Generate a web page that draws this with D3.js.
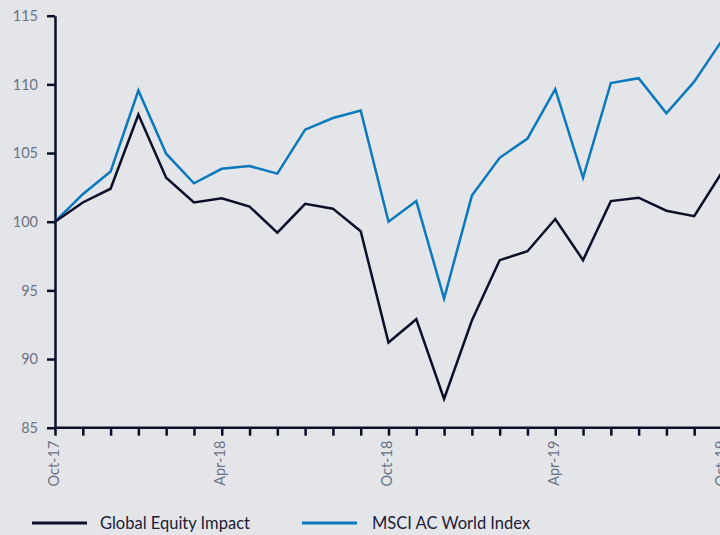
<!DOCTYPE html>
<html>
<head>
<meta charset="utf-8">
<script src="https://cdn.jsdelivr.net/npm/d3@7"></script>
<style>
  html, body { margin: 0; padding: 0; background: #e4e5e9; }
  svg { display: block; }
  text { font-family: Lato, "Open Sans", sans-serif; }
</style>
</head>
<body>
<svg id="chart" width="720" height="535"></svg>
<script>
// Monthly index levels, rebased to 100 at Oct-17
const months = [
  "Oct-17","Nov-17","Dec-17","Jan-18","Feb-18","Mar-18","Apr-18","May-18","Jun-18",
  "Jul-18","Aug-18","Sep-18","Oct-18","Nov-18","Dec-18","Jan-19","Feb-19","Mar-19",
  "Apr-19","May-19","Jun-19","Jul-19","Aug-19","Sep-19","Oct-19"
];
const globalEquityImpact = [
  100.0, 101.4, 102.4, 107.8, 103.2, 101.4, 101.7, 101.1, 99.2,
  101.3, 100.95, 99.3, 91.2, 92.9, 87.1, 92.8, 97.2, 97.85,
  100.2, 97.2, 101.5, 101.75, 100.8, 100.4, 103.6
];
const msciACWorld = [
  100.0, 102.0, 103.65, 109.55, 104.95, 102.8, 103.85, 104.05, 103.5,
  106.7, 107.55, 108.1, 100.0, 101.5, 94.4, 101.9, 104.65, 106.05,
  109.65, 103.2, 110.1, 110.45, 107.9, 110.2, 113.2
];
const yTicks = [85, 90, 95, 100, 105, 110, 115];
const xLabels = ["Oct-17", "Apr-18", "Oct-18", "Apr-19", "Oct-19"];

const series = [
  { name: "Global Equity Impact", values: globalEquityImpact, color: "#0b1029" },
  { name: "MSCI AC World Index", values: msciACWorld, color: "#0a78bd" }
];

const svg = d3.select("#chart");
const axisColor = "#0b1029";
const tickTextColor = "#6c7285";

const x = d3.scalePoint().domain(months).range([55, 722]);
const y = d3.scaleLinear().domain([85, 115]).range([427.7, 15.7]);

// Y axis
const yAxis = svg.append("g")
  .attr("transform", "translate(55,0)")
  .call(d3.axisLeft(y).tickValues(yTicks).tickSizeOuter(0).tickSizeInner(8).tickPadding(9));
yAxis.select(".domain").attr("stroke", axisColor).attr("stroke-width", 2.5);
yAxis.selectAll(".tick line").attr("stroke", axisColor).attr("stroke-width", 2.5);
yAxis.selectAll(".tick text")
  .attr("fill", tickTextColor)
  .style("font-size", "14.5px")
  .style("font-family", "Lato, sans-serif");

// X axis, monthly ticks with semi-annual labels
const xAxis = svg.append("g")
  .attr("transform", `translate(0,${y(85)})`)
  .call(d3.axisBottom(x).tickSizeOuter(0).tickSizeInner(8)
    .tickFormat(d => xLabels.includes(d) ? d : ""));
xAxis.select(".domain").attr("stroke", axisColor).attr("stroke-width", 2.5)
  .attr("d", `M55,0H722`);
xAxis.selectAll(".tick line").attr("stroke", axisColor).attr("stroke-width", 2.5);
xAxis.selectAll(".tick text")
  .attr("fill", tickTextColor)
  .style("font-size", "14.5px")
  .attr("text-anchor", "end")
  .attr("transform", "rotate(-90)")
  .attr("x", -13)
  .attr("y", -2)
  .attr("dy", "0.35em");

// Lines
const line = d3.line()
  .x((d, i) => x(months[i]))
  .y(d => y(d));

svg.append("g").selectAll("path.series")
  .data(series.slice().reverse())
  .join("path")
  .attr("class", "series")
  .attr("fill", "none")
  .attr("stroke", d => d.color)
  .attr("stroke-width", 2.5)
  .attr("stroke-linejoin", "miter")
  .attr("d", d => line(d.values));

// Legend
const legendItems = [
  { s: series[0], x0: 32, x1: 87, tx: 100 },
  { s: series[1], x0: 302, x1: 357, tx: 372 }
];
const legend = svg.append("g").attr("class", "legend");
legendItems.forEach(it => {
  legend.append("line")
    .attr("x1", it.x0).attr("x2", it.x1)
    .attr("y1", 523).attr("y2", 523)
    .attr("stroke", it.s.color).attr("stroke-width", 3);
  legend.append("text")
    .attr("x", it.tx).attr("y", 523)
    .attr("dy", "0.35em")
    .attr("fill", "#1b2038")
    .style("font-size", "16.5px")
    .text(it.s.name);
});
</script>
</body>
</html>
